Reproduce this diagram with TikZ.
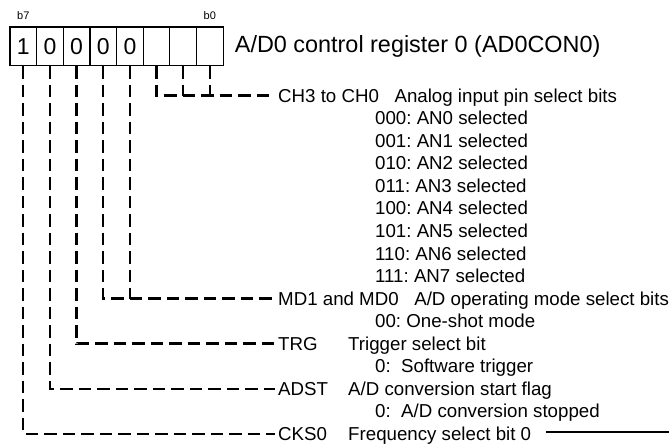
\documentclass[tikz,border=0pt]{standalone}
\usepackage{fontspec}
\setmainfont{Liberation Sans}
\usetikzlibrary{positioning}
\frenchspacing

\begin{document}
\begin{tikzpicture}[x=1pt,y=-1pt,
    bitcell/.style={draw,line width=1.2pt,minimum width=26.65pt,minimum height=38.6pt,
      inner sep=0pt,font=\fontsize{23}{23}\selectfont},
    bitno/.style={inner sep=0pt,font=\fontsize{11}{11}\selectfont},
    title/.style={inner sep=0pt,font=\fontsize{23.4}{24}\selectfont},
    field/.style={anchor=west,inner xsep=3pt,inner ysep=0pt,text height=13.4pt,text depth=0pt,
      font=\fontsize{18.7}{22.5}\selectfont},
    value/.style={field,inner xsep=0pt},
    leader/.style={line width=2.3pt,dash pattern=on 12.5pt off 6pt},
  ]
    \useasboundingbox (0,0) rectangle (669,445);

    % register cells, b7 on the left
    \foreach \b/\v [count=\i from 0] in {7/1,6/0,5/0,4/0,3/0,2/,1/,0/}
      \node[bitcell] (b\b) at (23.3+26.65*\i,46.2) {\v};
    \node[bitno] (lb7) at (b7.center |- 0,16) {b7};
    \node[bitno] (lb0) at (b0.center |- 0,16) {b0};
    \node[title, right=11pt of b0] (reg) {A/D0 control register 0 (AD0CON0)};

    % bit fields
    \node[field] (ch) at (275,95.5) {CH3 to CH0\ \ \ Analog input pin select bits};
    \foreach \code [count=\k] in {000,001,010,011,100,101,110,111} {
      \pgfmathtruncatemacro{\an}{\k-1}
      \node[value] (ch\code) at (375,95.5+22.55*\k) {\code: AN\an\ selected};
    }
    \node[field] (md) at (275,298.5) {MD1 and MD0\ \ \ A/D operating mode select bits};
    \node[value] (md00) at (375,321) {00: One-shot mode};
    \node[field] (trg) at (275,343.6) {TRG};
    \node[value] (trgtxt) at (348,343.6) {Trigger select bit};
    \node[value] (trg0) at (375,366.1) {0:\ \ Software trigger};
    \node[field] (adst) at (275,388.7) {ADST};
    \node[value] (adsttxt) at (348,388.7) {A/D conversion start flag};
    \node[value] (adst0) at (375,411.2) {0:\ \ A/D conversion stopped};
    \node[field] (cks) at (275,433.8) {CKS0};
    \node[value] (ckstxt) at (348,433.8) {Frequency select bit 0};
    \coordinate (rim) at (669,432);

    % leaders from the cells
    \draw[leader] (b2.south) |- (ch.west);
    \draw[leader] (b1.south) -- (b1.south |- ch.west);
    \draw[leader] (b0.south) -- (b0.south |- ch.west);
    \draw[leader] (b4.south) |- (md.west);
    \draw[leader] (b3.south) -- (b3.south |- md.west);
    \draw[leader] (b5.south) |- (trg.west);
    \draw[leader] (b6.south) |- (adst.west);
    \draw[leader] (b7.south) |- (cks.west);
    \draw[line width=1.3pt,shorten <=15pt] (ckstxt.east |- rim) -- (rim);
\end{tikzpicture}
\end{document}
